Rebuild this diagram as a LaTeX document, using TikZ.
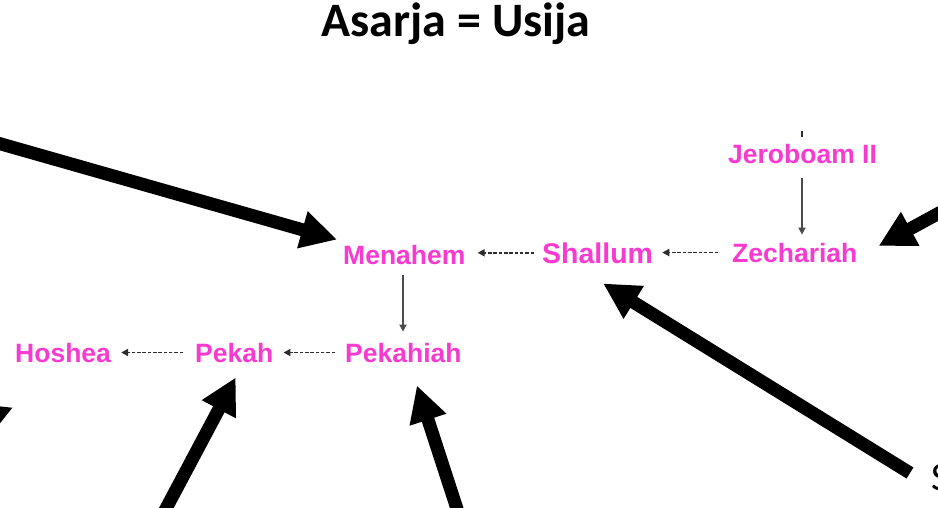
\documentclass[tikz,border=0pt]{standalone}
\usepackage{fontspec}
\setmainfont{Liberation Sans}
\newfontfamily\titlefont{Carlito}
\usetikzlibrary{arrows.meta}
\definecolor{kingpink}{RGB}{248,58,208}
\definecolor{thinarrow}{RGB}{45,45,45}
\tikzset{
  king/.style={inner sep=0pt, anchor=base west, text=kingpink, font=\fontsize{26.5}{30}\selectfont\bfseries},
  bigking/.style={king, font=\fontsize{28.5}{32}\selectfont\bfseries},
  dasharr/.style={draw=thinarrow, line width=1.8pt, dash pattern=on 3.5pt off 1.8pt, -{Triangle[length=7pt,width=7pt]}},
  solidarr/.style={draw=thinarrow!85, line width=1.8pt, -{Triangle[length=7pt,width=7pt]}},
  bigarr/.style={draw=black, line width=13pt, -{Triangle[length=36pt,width=36pt]}},
}
\begin{document}
\begin{tikzpicture}[x=1pt,y=-1pt]
\useasboundingbox (0,0) rectangle (938,507);
\clip (0,0) rectangle (938,507);
\fill[white] (0,0) rectangle (938,507);
% title
\node[inner sep=0pt, anchor=base, font=\titlefont\fontsize{48}{52}\selectfont\bfseries] (title) at (456,36) {Asarja = Usija};
% kings
\node[king] (jero) at (728,163) {Jeroboam II};
\node[king] (zech) at (732,262) {Zechariah};
\node[bigking] (shallum) at (542,263) {Shallum};
\node[king] (menahem) at (343,264) {Menahem};
\node[king] (pekahiah) at (345,362) {Pekahiah};
\node[king] (pekah) at (195,362) {Pekah};
\node[king] (hoshea) at (15,362) {Hoshea};
% partial label
\node[inner sep=0pt, anchor=base west, font=\titlefont\fontsize{40}{44}\selectfont] (slabel) at (931,490) {S};
% thin connectors
\coordinate (jtop) at (802,131);
\draw[draw=thinarrow, line width=1.8pt] (jtop) -- ++(0,6);
\draw[solidarr] ([yshift=-15]jero.base -| 802,0) -- ([yshift=8]zech.north -| 802,0);
\draw[dasharr] ([xshift=-14]zech.west) -- ([xshift=9]zech.west -| shallum.east);
\draw[dasharr] ([xshift=-8]shallum.west) -- ([xshift=12]shallum.west -| menahem.east);
\draw[solidarr] ([yshift=-11]menahem.base -| 403,0) -- ([yshift=11]pekahiah.north -| 403,0);
\draw[dasharr] ([xshift=-10]pekahiah.west) -- ([xshift=10]pekahiah.west -| pekah.east);
\draw[dasharr] ([xshift=-12]pekah.west) -- ([xshift=10]pekah.west -| hoshea.east);
% big arrows
\coordinate (tail1) at (-20,138);
\coordinate (tail2) at (985,188);
\coordinate (tail3) at (910,473);
\coordinate (tail4) at (459,515);
\coordinate (tail5) at (161,518);
\coordinate (tail6) at (-60,438);
\draw[bigarr] (tail1) -- ([shift={(-6,-5)}]menahem.north west);
\draw[bigarr] (tail2) -- ([shift={(21,-6.5)}]zech.east);
\draw[bigarr] (tail3) -- ([shift={(5.5,20)}]shallum.south);
\draw[bigarr] (tail4) -- ([shift={(13.5,23)}]pekahiah.south);
\draw[bigarr] (tail5) -- ([shift={(1.5,15)}]pekah.south);
\draw[bigarr] (tail6) -- ([shift={(-2,45)}]hoshea.south west);
\end{tikzpicture}
\end{document}
